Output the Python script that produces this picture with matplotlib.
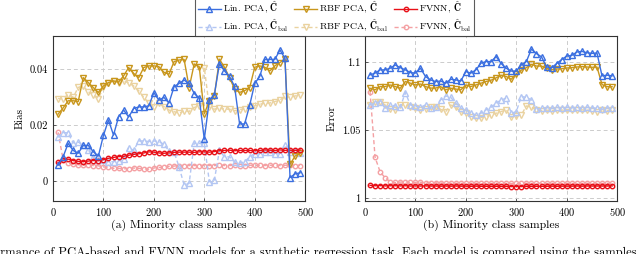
import numpy as np
import matplotlib
matplotlib.use("Agg")
import matplotlib.pyplot as plt

plt.rcParams['font.family'] = 'serif'
plt.rcParams['font.serif'] = ['cmr10', 'DejaVu Serif']
plt.rcParams['mathtext.fontset'] = 'cm'
plt.rcParams['axes.formatter.use_mathtext'] = True

# minority class samples
samples = list(range(10, 500, 10))

# (a) bias
bias_lin = [0.0057, 0.0087, 0.0135, 0.011, 0.010, 0.0128, 0.0128, 0.0105, 0.009, 0.0164,
            0.0219, 0.0165, 0.023, 0.0255, 0.023, 0.026, 0.0266, 0.0266, 0.027, 0.0317,
            0.029, 0.030, 0.028, 0.0338, 0.035, 0.0362, 0.035, 0.0314, 0.0298, 0.015,
            0.029, 0.031, 0.042, 0.0395, 0.0375, 0.034, 0.0205, 0.0205, 0.0272, 0.035,
            0.0375, 0.0436, 0.0436, 0.0436, 0.047, 0.044, 0.0013, 0.0026, 0.003]
bias_rbf = [0.024, 0.0262, 0.0288, 0.0288, 0.0285, 0.0371, 0.0353, 0.0335, 0.0318, 0.0341,
            0.0353, 0.0359, 0.0355, 0.0377, 0.0407, 0.0386, 0.0371, 0.0407, 0.0413, 0.0413,
            0.041, 0.039, 0.0383, 0.0428, 0.0434, 0.0436, 0.0335, 0.042, 0.041, 0.0241,
            0.0288, 0.0306, 0.0437, 0.0408, 0.0371, 0.033, 0.0318, 0.0324, 0.0335, 0.0408,
            0.0413, 0.0408, 0.0395, 0.0413, 0.0425, 0.0437, 0.006, 0.009, 0.010]
bias_fvnn = [0.0067, 0.0075, 0.0079, 0.0074, 0.0071, 0.007, 0.0072, 0.0074, 0.0073, 0.0077,
             0.0082, 0.0085, 0.0088, 0.0089, 0.0093, 0.0096, 0.0098, 0.0101, 0.0105, 0.0104,
             0.0101, 0.0100, 0.0101, 0.0103, 0.0104, 0.0104, 0.0104, 0.0103, 0.0105, 0.0105,
             0.0104, 0.0106, 0.0109, 0.011, 0.0111, 0.0109, 0.011, 0.011, 0.011, 0.0109,
             0.011, 0.0112, 0.0111, 0.011, 0.0112, 0.011, 0.0111, 0.011, 0.0112]
bias_lin_bal = [0.0157, 0.0174, 0.0173, 0.0137, 0.014, 0.0129, 0.0112, 0.0085, 0.0075, 0.0077,
                0.0069, 0.007, 0.0072, 0.008, 0.012, 0.011, 0.0144, 0.0144, 0.0142, 0.0144,
                0.0142, 0.0132, 0.0108, 0.0105, 0.0051, -0.0014, -0.0008, 0.0137, 0.0135, 0.0135,
                -0.0002, 0.0004, 0.011, 0.0087, 0.0087, 0.0069, 0.0065, 0.0069, 0.0087, 0.0099,
                0.0099, 0.0104, 0.0104, 0.0099, 0.0099, 0.0129, 0.0105, 0.0108, 0.0100]
bias_rbf_bal = [0.0296, 0.0296, 0.031, 0.030, 0.0336, 0.0341, 0.032, 0.031, 0.0296, 0.0336,
                0.0352, 0.036, 0.0352, 0.036, 0.0352, 0.0341, 0.0324, 0.030, 0.028, 0.0267,
                0.028, 0.0267, 0.0255, 0.0249, 0.0243, 0.0252, 0.025, 0.0264, 0.027, 0.0407,
                0.0264, 0.0258, 0.0262, 0.0258, 0.0258, 0.0252, 0.0256, 0.026, 0.0265, 0.027,
                0.0275, 0.028, 0.028, 0.0285, 0.029, 0.0305, 0.030, 0.0305, 0.031]
bias_fvnn_bal = [0.0175, 0.0078, 0.0065, 0.0061, 0.0059, 0.0058, 0.0059, 0.0056, 0.0055, 0.0051,
                 0.0049, 0.0046, 0.0046, 0.0044, 0.0045, 0.0047, 0.0046, 0.0044, 0.0043, 0.0047,
                 0.0049, 0.005, 0.0053, 0.0054, 0.0056, 0.0055, 0.0056, 0.0056, 0.0055, 0.0056,
                 0.0056, 0.0056, 0.0057, 0.0056, 0.0056, 0.0057, 0.0056, 0.0056, 0.0057, 0.0057,
                 0.0057, 0.0056, 0.0057, 0.0057, 0.0056, 0.0057, 0.0057, 0.0056, 0.0056]

# (b) error
err_lin = [1.0907, 1.092, 1.0944, 1.0944, 1.0956, 1.098, 1.096, 1.0944, 1.0924, 1.092,
           1.0956, 1.0895, 1.087, 1.0858, 1.0862, 1.0846, 1.0875, 1.087, 1.0862, 1.0931,
           1.092, 1.0944, 1.0993, 1.1005, 1.1005, 1.1042, 1.099, 1.0956, 1.0935, 1.0935,
           1.098, 1.1005, 1.1097, 1.1063, 1.104, 1.0965, 1.096, 1.099, 1.102, 1.1045,
           1.105, 1.1075, 1.108, 1.107, 1.1065, 1.1068, 1.09, 1.0905, 1.09]
err_rbf = [1.0809, 1.0797, 1.0821, 1.0821, 1.0833, 1.0821, 1.0809, 1.0858, 1.0846, 1.0833,
           1.084, 1.0821, 1.081, 1.081, 1.0821, 1.0797, 1.0809, 1.0803, 1.0797, 1.0833,
           1.0821, 1.0833, 1.0846, 1.0858, 1.0868, 1.0885, 1.0905, 1.0895, 1.0875, 1.0915,
           1.0942, 1.096, 1.0985, 1.0972, 1.0972, 1.0955, 1.0945, 1.095, 1.0952, 1.0958,
           1.096, 1.0965, 1.0968, 1.0965, 1.0963, 1.0965, 1.0836, 1.082, 1.082]
err_fvnn = [1.0095, 1.0092, 1.0093, 1.0091, 1.0092, 1.0092, 1.0091, 1.0092, 1.009, 1.0091,
            1.009, 1.0091, 1.009, 1.009, 1.0089, 1.009, 1.0089, 1.009, 1.0089, 1.0089,
            1.0088, 1.0089, 1.0088, 1.0088, 1.0087, 1.0088, 1.0087, 1.0087, 1.0086, 1.0086,
            1.0086, 1.0087, 1.0087, 1.0088, 1.0088, 1.0088, 1.0089, 1.0088, 1.0089, 1.0089,
            1.0089, 1.009, 1.0089, 1.009, 1.009, 1.009, 1.009, 1.009, 1.0091]
err_lin_bal = [1.0686, 1.0699, 1.0711, 1.0662, 1.0686, 1.0679, 1.0669, 1.0777, 1.0686, 1.0679,
               1.0669, 1.0686, 1.0662, 1.0674, 1.0723, 1.0752, 1.0742, 1.0699, 1.0662, 1.065,
               1.0625, 1.0613, 1.0625, 1.065, 1.0669, 1.0699, 1.0723, 1.0735, 1.0625, 1.0637,
               1.0748, 1.0742, 1.0723, 1.0657, 1.0662, 1.0665, 1.0662, 1.0668, 1.0662, 1.0668,
               1.0665, 1.0668, 1.0662, 1.0668, 1.0665, 1.0662, 1.0655, 1.0665, 1.0662]
err_rbf_bal = [1.0686, 1.0711, 1.0711, 1.0686, 1.0654, 1.065, 1.0686, 1.0686, 1.0674, 1.0662,
               1.065, 1.0654, 1.0669, 1.0669, 1.0654, 1.0637, 1.0686, 1.0669, 1.0637, 1.0625,
               1.06, 1.0588, 1.0593, 1.06, 1.0613, 1.0625, 1.0637, 1.065, 1.0596, 1.0605,
               1.0613, 1.0679, 1.0669, 1.065, 1.0645, 1.0648, 1.0645, 1.065, 1.0648, 1.0652,
               1.065, 1.0648, 1.065, 1.0648, 1.0645, 1.0637, 1.0652, 1.0645, 1.0652]
err_fvnn_bal = [1.0784, 1.0301, 1.0194, 1.015, 1.0121, 1.0116, 1.0119, 1.012, 1.0117, 1.0117,
                1.0118, 1.0115, 1.0114, 1.0113, 1.0112, 1.0111, 1.0111, 1.011, 1.011, 1.011,
                1.011, 1.011, 1.0109, 1.011, 1.0109, 1.011, 1.0109, 1.0109, 1.0109, 1.011,
                1.0109, 1.011, 1.0109, 1.011, 1.011, 1.0109, 1.011, 1.011, 1.0109, 1.011,
                1.011, 1.011, 1.0109, 1.011, 1.011, 1.011, 1.0109, 1.011, 1.011]

blue = '#3b6fe0'
gold = '#c8961c'
red = '#e81018'
light_blue = '#b3c6f3'
light_gold = '#ead29f'
light_red = '#f4a0a3'

fig = plt.figure(figsize=(6.4, 2.54), dpi=100)
ax1 = fig.add_axes([0.0828, 0.2087, 0.394, 0.6496])
ax2 = fig.add_axes([0.5703, 0.2087, 0.394, 0.6496])


def draw(ax, lin, rbf, fvnn, lin_bal, rbf_bal, fvnn_bal):
    h = []
    h += ax.plot(samples, lin, '-', color=blue, lw=1.0, marker='^', ms=4, mfc='none', mew=1.0,
                 label=r'Lin. PCA, $\hat{\mathbf{C}}$', zorder=5)
    h += ax.plot(samples, lin_bal, '--', color=light_blue, lw=1.0, marker='^', ms=4, mfc='none', mew=1.0,
                 dashes=(3, 2), label=r'Lin. PCA, $\hat{\mathbf{C}}_{\mathrm{bal}}$', zorder=3)
    h += ax.plot(samples, rbf, '-', color=gold, lw=1.0, marker='v', ms=4, mfc='none', mew=1.0,
                 label=r'RBF PCA, $\hat{\mathbf{C}}$', zorder=4)
    h += ax.plot(samples, rbf_bal, '--', color=light_gold, lw=1.0, marker='v', ms=4, mfc='none', mew=1.0,
                 dashes=(3, 2), label=r'RBF PCA, $\hat{\mathbf{C}}_{\mathrm{bal}}$', zorder=2)
    h += ax.plot(samples, fvnn, '-', color=red, lw=1.0, marker='o', ms=3.2, mfc='none', mew=1.0,
                 label=r'FVNN, $\hat{\mathbf{C}}$', zorder=4)
    h += ax.plot(samples, fvnn_bal, '--', color=light_red, lw=1.0, marker='o', ms=3.2, mfc='none', mew=1.0,
                 dashes=(3, 2), label=r'FVNN, $\hat{\mathbf{C}}_{\mathrm{bal}}$', zorder=2)
    ax.set_xlim(0, 500)
    ax.set_xticks([0, 100, 200, 300, 400, 500])
    ax.grid(True, ls=(0, (4, 3)), color='#cccccc', lw=0.7)
    ax.set_axisbelow(True)
    ax.tick_params(direction='in', length=2.5, labelsize=7.5, width=0.6, color='#444444')
    for s in ax.spines.values():
        s.set_color('#333333')
        s.set_linewidth(0.8)
    return h


handles = draw(ax1, bias_lin, bias_rbf, bias_fvnn, bias_lin_bal, bias_rbf_bal, bias_fvnn_bal)
ax1.set_ylim(-0.0071, 0.052)
ax1.set_yticks([0, 0.02, 0.04])
ax1.set_yticklabels(['0', '0.02', '0.04'])
ax1.set_ylabel('Bias', fontsize=8, labelpad=4)
ax1.set_xlabel('(a) Minority class samples', fontsize=8.5, labelpad=1.5)

draw(ax2, err_lin, err_rbf, err_fvnn, err_lin_bal, err_rbf_bal, err_fvnn_bal)
ax2.set_ylim(0.998, 1.1193)
ax2.set_yticks([1, 1.05, 1.1])
ax2.set_yticklabels(['1', '1.05', '1.1'])
ax2.set_ylabel('Error', fontsize=8, labelpad=4)
ax2.set_xlabel('(b) Minority class samples', fontsize=8.5, labelpad=1.5)

leg = fig.legend(handles=handles, loc='center', bbox_to_anchor=(0.523, 0.933), ncol=3,
                 fontsize=7, frameon=True, fancybox=False, edgecolor='#333333',
                 handlelength=2.4, handletextpad=0.2, columnspacing=0.6,
                 labelspacing=0.15, borderpad=0.25)
leg.get_frame().set_linewidth(0.8)

fig.text(-0.045, -0.02, 'Performance of PCA-based and FVNN models for a synthetic regression task. '
         'Each model is compared using the samples', fontsize=9, ha='left', va='bottom')

fig.savefig('out.png', dpi=100)
